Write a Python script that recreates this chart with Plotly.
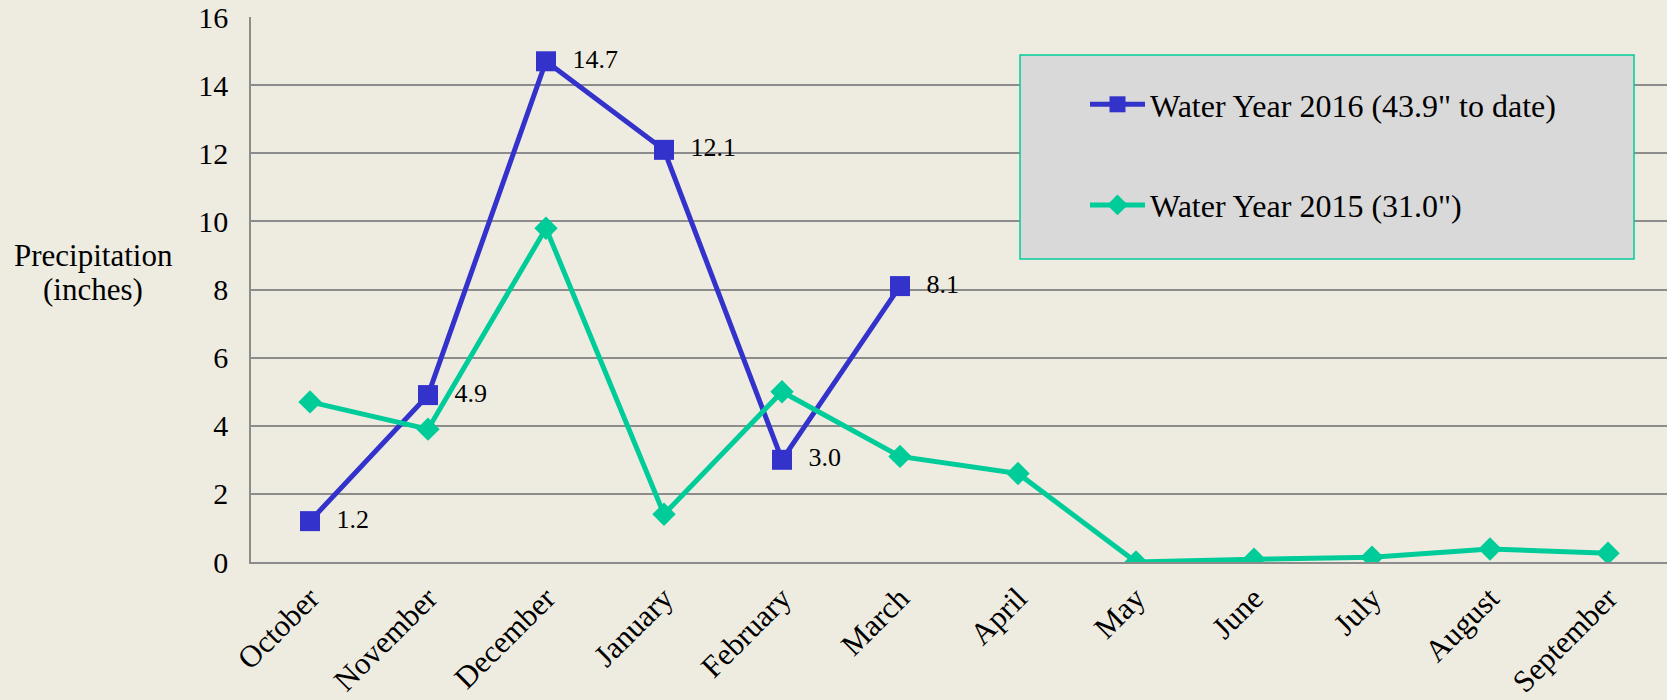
import plotly.graph_objects as go

months = ["October", "November", "December", "January", "February", "March",
          "April", "May", "June", "July", "August", "September"]
wy2016 = [1.2, 4.9, 14.7, 12.1, 3.0, 8.1]
wy2015 = [4.7, 3.9, 9.8, 1.4, 5.0, 3.1, 2.6, 0.0, 0.08, 0.14, 0.38, 0.26]
# two non-breaking spaces push the labels off the markers like the original
wy2016_labels = ["\u00a0\u00a0" + f"{v:.1f}" for v in wy2016]

BLUE = "#3333CC"
GREEN = "#00CC99"
BG = "#EEECE1"
GRID = "#8C8C8C"
FONT = "Liberation Serif"

fig = go.Figure()

fig.add_trace(go.Scatter(
    x=months[:len(wy2016)], y=wy2016,
    mode="lines+markers+text",
    name="Water Year 2016 (43.9\" to date)",
    text=wy2016_labels, textposition="middle right",
    textfont=dict(family=FONT, size=26, color="black"),
    line=dict(color=BLUE, width=5),
    marker=dict(symbol="square", size=20, color=BLUE),
    legendgroup="a",
))
fig.add_trace(go.Scatter(
    x=months, y=wy2015,
    mode="lines+markers",
    name="Water Year 2015 (31.0\")",
    line=dict(color=GREEN, width=5),
    marker=dict(symbol="diamond", size=18, color=GREEN),
    legendgroup="b",
))

# legend box drawn as a shape so the padding can match
fig.add_shape(type="rect", xref="paper", yref="paper",
              x0=(1020 - 251) / 1416, x1=(1634 - 251) / 1416,
              y0=(562 - 259) / 545, y1=(562 - 55) / 545,
              fillcolor="#D9D9D9", line=dict(color=GREEN, width=1.5), layer="above")

# y title, two lines placed separately for tighter spacing
for txt, ypix in [("Precipitation", 255), ("(inches)", 289)]:
    fig.add_annotation(text=txt, xref="paper", yref="paper",
                       x=(93 - 251) / 1416, y=(562 - ypix) / 545, showarrow=False,
                       xanchor="center", yanchor="middle",
                       font=dict(family=FONT, size=31, color="black"))

fig.update_layout(
    width=1667, height=700,
    paper_bgcolor=BG, plot_bgcolor=BG,
    margin=dict(l=251, r=0, t=17, b=138),
    font=dict(family=FONT, size=30, color="black"),
    showlegend=True,
    legend=dict(x=(1085 - 251) / 1416, y=(562 - 77) / 545, xanchor="left", yanchor="top",
                bgcolor="rgba(0,0,0,0)", font=dict(family=FONT, size=32),
                tracegroupgap=56, itemwidth=55),
    xaxis=dict(categoryorder="array", categoryarray=months, range=[-0.5, 11.5],
               tickangle=-45, showgrid=False, showline=True, linecolor=GRID, linewidth=1.5,
               ticks="", tickfont=dict(family=FONT, size=31), ticklabelstandoff=4),
    yaxis=dict(range=[0, 16], dtick=2, showgrid=True, gridcolor=GRID, gridwidth=1.5,
               showline=True, linecolor=GRID, linewidth=1.5, zeroline=False,
               ticks="", tickfont=dict(family=FONT, size=30), ticklabelstandoff=15),
)

fig.write_html("out.html", post_script="document.body.style.margin='0';",
               config={"displayModeBar": False})
